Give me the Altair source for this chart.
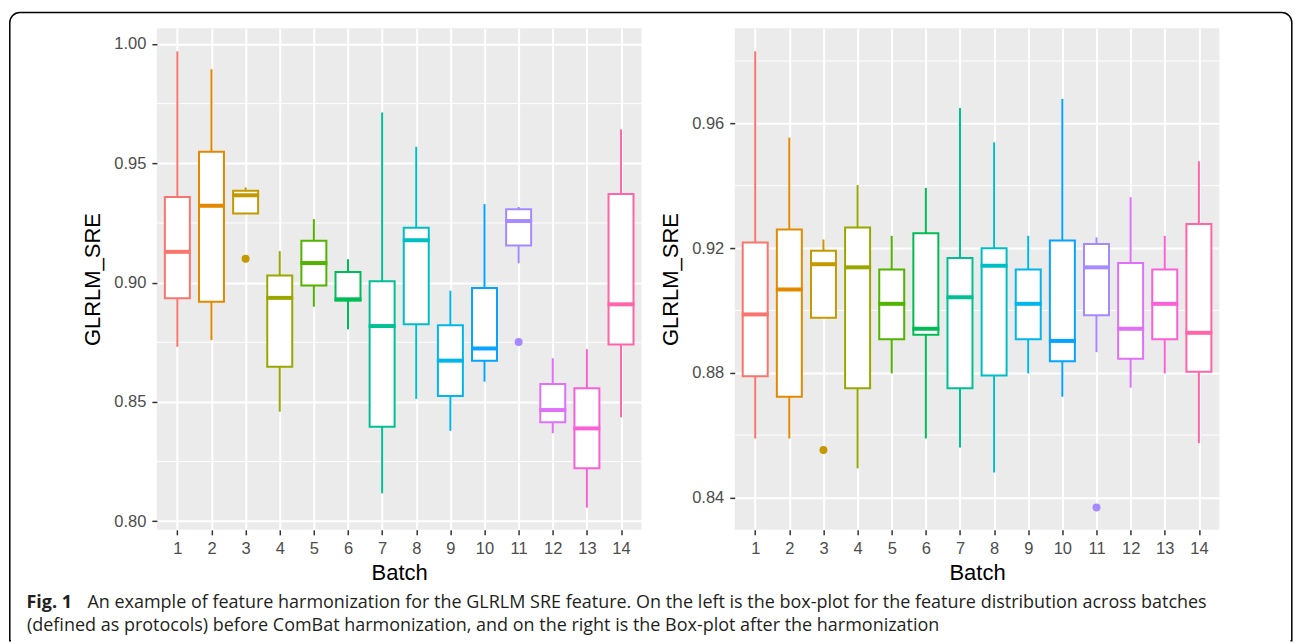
import altair as alt
import pandas as pd

# ---------------- data ----------------
batches = list(range(1, 15))
colors = ["#F8766D", "#E38900", "#C49A00", "#99A800", "#53B400", "#00BC56", "#00C094",
          "#00BFC4", "#00B6EB", "#06A4FF", "#A58AFF", "#DF70F8", "#FB61D7", "#FF66A8"]

# Left panel: before ComBat harmonization
upper_L = [0.9969, 0.9894, 0.9399, 0.9132, 0.9266, 0.9098, 0.9713, 0.9569, 0.8966, 0.9329, 0.9317, 0.8683, 0.8721, 0.9642]
q3_L    = [0.9359, 0.9548, 0.9385, 0.9030, 0.9175, 0.9044, 0.9006, 0.9230, 0.8821, 0.8977, 0.9307, 0.8575, 0.8557, 0.9371]
med_L   = [0.9129, 0.9322, 0.9366, 0.8936, 0.9082, 0.8930, 0.8818, 0.9178, 0.8673, 0.8724, 0.9258, 0.8466, 0.8389, 0.8909]
q1_L    = [0.8934, 0.8920, 0.9290, 0.8647, 0.8988, 0.8925, 0.8396, 0.8825, 0.8525, 0.8673, 0.9156, 0.8415, 0.8222, 0.8741]
lower_L = [0.8731, 0.8759, 0.9290, 0.8459, 0.8899, 0.8804, 0.8117, 0.8513, 0.8379, 0.8585, 0.9081, 0.8369, 0.8057, 0.8436]
out_batch_L = [3, 11]
out_value_L = [0.9100, 0.8751]
ticks_L = [0.80, 0.85, 0.90, 0.95, 1.00]
minor_L = [0.825, 0.875, 0.925, 0.975]
domain_L = [0.7964, 1.0066]

# Right panel: after ComBat harmonization
upper_R = [0.9831, 0.9554, 0.9227, 0.9402, 0.9239, 0.9393, 0.9649, 0.9539, 0.9239, 0.9678, 0.9234, 0.9363, 0.9239, 0.9478]
q3_R    = [0.9218, 0.9259, 0.9191, 0.9266, 0.9131, 0.9247, 0.9168, 0.9199, 0.9131, 0.9224, 0.9213, 0.9152, 0.9131, 0.9277]
med_R   = [0.8987, 0.9067, 0.9148, 0.9138, 0.9021, 0.8941, 0.9042, 0.9143, 0.9021, 0.8902, 0.9138, 0.8941, 0.9021, 0.8928]
q1_R    = [0.8789, 0.8723, 0.8976, 0.8750, 0.8907, 0.8922, 0.8750, 0.8791, 0.8907, 0.8837, 0.8984, 0.8845, 0.8907, 0.8803]
lower_R = [0.8589, 0.8589, 0.8976, 0.8493, 0.8798, 0.8589, 0.8560, 0.8480, 0.8798, 0.8723, 0.8866, 0.8752, 0.8798, 0.8574]
out_batch_R = [3, 11]
out_value_R = [0.8552, 0.8368]
ticks_R = [0.84, 0.88, 0.92, 0.96]
minor_R = [0.86, 0.90, 0.94, 0.98]
domain_R = [0.8296, 0.9905]

y_title = "GLRLM_SRE"
x_title = "Batch"
caption_bold = "Fig. 1"
caption_line1 = ("An example of feature harmonization for the GLRLM SRE feature. On the left is the "
                 "box-plot for the feature distribution across batches")
caption_line2 = ("(defined as protocols) before ComBat harmonization, and on the right is the "
                 "Box-plot after the harmonization")

# ---------------- layout constants ----------------
W, H = 485, 502
OX, OY = 156.5, 28          # screen position of left plot origin
BOX = 25
FONT = "Liberation Sans"
CAP_FONT = "Open Sans"
CAP_SIZE = 18


def panel(lower, q1, med, q3, upper, ob, ov, domain, ticks, minor, extras=None):
    df = pd.DataFrame(dict(batch=batches, lower=lower, q1=q1, med=med, q3=q3, upper=upper))
    odf = pd.DataFrame(dict(batch=ob, v=ov))
    mdf = pd.DataFrame(dict(v=minor))

    xaxis = alt.Axis(title=x_title, labelAngle=0, grid=True, labelPadding=6, titlePadding=5)
    yaxis = alt.Axis(title=y_title, values=ticks, format=".2f", labelPadding=6, titlePadding=9)
    ysc = alt.Scale(domain=domain, nice=False, zero=False)
    xsc = alt.Scale(type="point", padding=0.6)

    def X():
        return alt.X("batch:O", scale=xsc, axis=xaxis)

    def Y(f):
        return alt.Y(f + ":Q", scale=ysc, axis=yaxis)

    col = alt.Color("batch:N", scale=alt.Scale(domain=batches, range=colors), legend=None)
    strk = alt.Stroke("batch:N", scale=alt.Scale(domain=batches, range=colors), legend=None)

    base = alt.Chart(df)
    minor_grid = alt.Chart(mdf).mark_rule(color="white", strokeWidth=1, opacity=1).encode(
        y=Y("v"), x=alt.value(0), x2=alt.value(W))
    wh_up = base.mark_rule(strokeWidth=2, opacity=1).encode(x=X(), y=Y("upper"), y2="q3", color=col)
    wh_lo = base.mark_rule(strokeWidth=2, opacity=1).encode(x=X(), y=Y("q1"), y2="lower", color=col)
    box = base.mark_bar(fill="white", strokeWidth=2, size=BOX, opacity=1, strokeOpacity=1).encode(
        x=X(), y=Y("q3"), y2="q1", stroke=strk)
    median = base.mark_tick(thickness=4, size=BOX + 2, opacity=1).encode(x=X(), y=Y("med"), color=col)
    outl = alt.Chart(odf).mark_circle(size=64, opacity=1).encode(x=X(), y=Y("v"), color=col)

    layers = [minor_grid, wh_up, wh_lo, box, median, outl]
    if extras:
        layers = extras + layers
    return alt.layer(*layers).properties(width=W, height=H)


# frame, caption (positioned in pixels relative to left panel's plot origin)
one = pd.DataFrame({"a": [0]})
bounds_rect = alt.Chart(one).mark_rect(opacity=0).encode(
    x=alt.value(-OX), x2=alt.value(1295 - OX), y=alt.value(-OY), y2=alt.value(643 - OY))
frame = alt.Chart(one).mark_rect(
    fillOpacity=0, stroke="black", strokeWidth=1.5,
    cornerRadiusTopLeft=10, cornerRadiusTopRight=10).encode(
    x=alt.value(9.3 - OX), x2=alt.value(1292.3 - OX), y=alt.value(12.3 - OY), y2=alt.value(641 - OY))
cover = alt.Chart(one).mark_rule(color="white", strokeWidth=3).encode(
    x=alt.value(10.5 - OX), x2=alt.value(1291 - OX), y=alt.value(641 - OY))
cap_df = pd.DataFrame(dict(t=[caption_bold, caption_line1, caption_line2]))
cap_bold = alt.Chart(cap_df.iloc[[0]]).mark_text(
    align="left", baseline="alphabetic", font=CAP_FONT, fontSize=CAP_SIZE, fontWeight="bold", color="#231F20"
).encode(text="t:N", x=alt.value(26 - OX), y=alt.value(608 - OY))
cap_l1 = alt.Chart(cap_df.iloc[[1]]).mark_text(
    align="left", baseline="alphabetic", font=CAP_FONT, fontSize=CAP_SIZE, color="#231F20"
).encode(text="t:N", x=alt.value(87 - OX), y=alt.value(608 - OY))
cap_l2 = alt.Chart(cap_df.iloc[[2]]).mark_text(
    align="left", baseline="alphabetic", font=CAP_FONT, fontSize=CAP_SIZE, color="#231F20"
).encode(text="t:N", x=alt.value(26.5 - OX), y=alt.value(631 - OY))

left = panel(lower_L, q1_L, med_L, q3_L, upper_L, out_batch_L, out_value_L, domain_L, ticks_L, minor_L,
             extras=[bounds_rect])
left = alt.layer(left, frame, cover, cap_bold, cap_l1, cap_l2)
right = panel(lower_R, q1_R, med_R, q3_R, upper_R, out_batch_R, out_value_R, domain_R, ticks_R, minor_R)

chart = alt.hconcat(left, right, spacing=93.3, bounds="flush").properties(
    padding=0, background="white"
).configure_view(
    fill="#EBEBEB", stroke=None
).configure_axis(
    domain=False, tickColor="#333333", tickSize=5, tickWidth=1.5,
    labelColor="#4D4D4D", labelFont=FONT, labelFontSize=16.5,
    titleFont=FONT, titleFontSize=22, titleFontWeight="normal", titleColor="black",
    gridColor="white", gridWidth=2, gridOpacity=1
)

chart.save("out.html", embed_options={"renderer": "svg", "actions": False})
